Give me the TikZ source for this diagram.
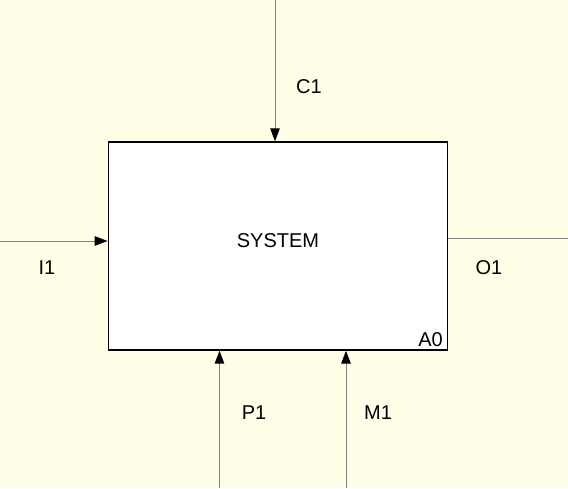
\documentclass[tikz,border=0pt]{standalone}
\usepackage{fontspec}
\setmainfont{Liberation Sans}
\usetikzlibrary{arrows.meta}
\definecolor{bgyellow}{RGB}{255,255,232}
\definecolor{arrowgray}{RGB}{128,128,128}
\begin{document}
\begin{tikzpicture}[x=1pt,y=-1pt,
  lbl/.style={inner sep=0pt,font=\fontsize{20}{24}\selectfont},
  arr/.style={draw=arrowgray,line width=1pt,-{Triangle[length=13pt,width=9.5pt,fill=black,color=black]}},
  plainarr/.style={draw=arrowgray,line width=1pt},
  actbox/.style={draw=black,line width=1.3pt,fill=white,minimum width=339pt,minimum height=208pt,inner sep=0pt}]
\fill[bgyellow] (0,0) rectangle (568,488);
\useasboundingbox (0,0) rectangle (568,488);
\node[actbox] (sys) at (277.75,246) {};
\node[lbl] (systxt) at (278,241) {SYSTEM};
\node[lbl,anchor=south east] (a0) at (443,347) {A0};
\coordinate (c1s) at (275,0);
\coordinate (i1s) at (0,241);
\coordinate (o1e) at (568,238);
\coordinate (p1s) at (219.5,488);
\coordinate (m1s) at (346,488);
\draw[arr] (c1s) -- (c1s |- sys.north);
\draw[arr] (i1s) -- (i1s -| sys.west);
\draw[plainarr] (o1e -| sys.east) -- (o1e);
\draw[arr] (p1s) -- (p1s |- sys.south);
\draw[arr] (m1s) -- (m1s |- sys.south);
\node[lbl] (c1) at (309,87) {C1};
\node[lbl] (i1) at (47,268) {I1};
\node[lbl] (o1) at (489,268) {O1};
\node[lbl] (p1) at (254,413) {P1};
\node[lbl] (m1) at (378,413) {M1};
\end{tikzpicture}
\end{document}
